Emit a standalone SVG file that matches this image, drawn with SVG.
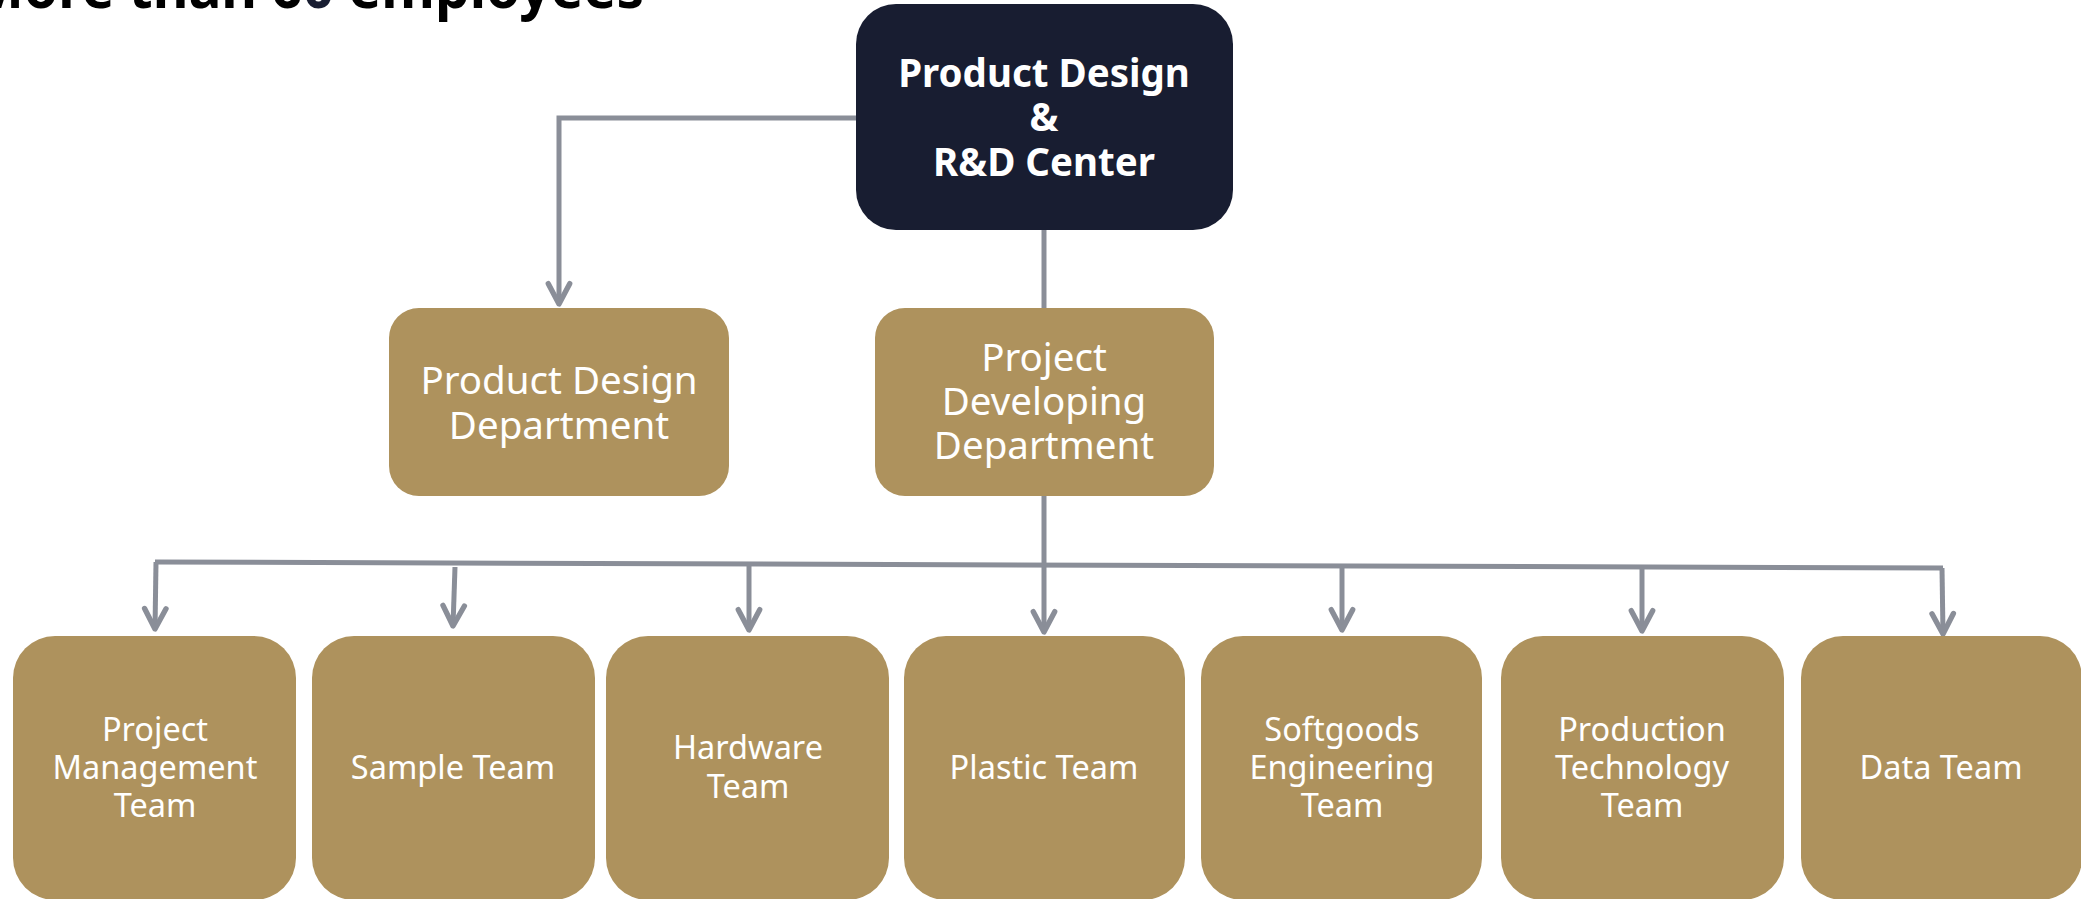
<svg xmlns="http://www.w3.org/2000/svg" width="2081" height="899" viewBox="0 0 2081 899">
  <defs>
    <style>
      .gold { fill: #ae925d; }
      .navy { fill: #181d31; }
      .lbl { font-family: "Noto Sans", "Open Sans", sans-serif; fill: #ffffff; text-anchor: middle; }
      .mid { font-size: 38.5px; }
      .small { font-size: 32.5px; }
      .top { font-family: "Noto Sans", "Open Sans", sans-serif; font-weight: bold; font-size: 38.5px; fill: #ffffff; text-anchor: middle; }
      .conn { fill: none; stroke: #8a8e98; stroke-width: 5; stroke-linejoin: miter; }
      .title { font-family: "Noto Sans", "Liberation Sans", sans-serif; font-weight: bold; font-size: 58px; fill: #000000; }
    </style>
    <marker id="arr" markerUnits="userSpaceOnUse" markerWidth="30" markerHeight="30" viewBox="-24 -14 28 28" refX="0" refY="0" orient="auto">
      <path d="M-19,-10 L0,0 L-19,10" fill="none" stroke="#8a8e98" stroke-width="5" stroke-linecap="round" stroke-linejoin="round"/>
    </marker>
  </defs>

  <rect width="2081" height="899" fill="#ffffff"/>

  <text class="title" x="-28" y="8" textLength="672" lengthAdjust="spacingAndGlyphs">More than 6<tspan fill="#181d31">0</tspan> employees</text>

  <g id="connectors">
    <polyline class="conn" points="856,118 559,118 559,304" marker-end="url(#arr)"/>
    <line class="conn" x1="1044" y1="230" x2="1044" y2="308"/>
    <line class="conn" x1="1044" y1="496" x2="1044" y2="632" marker-end="url(#arr)"/>
    <line class="conn" x1="155" y1="562" x2="1943" y2="568"/>
    <polyline class="conn" points="156,562 155,629" marker-end="url(#arr)"/>
    <line class="conn" x1="455" y1="567" x2="453" y2="626" marker-end="url(#arr)"/>
    <line class="conn" x1="749" y1="564" x2="749" y2="630" marker-end="url(#arr)"/>
    <line class="conn" x1="1342" y1="566" x2="1342" y2="630" marker-end="url(#arr)"/>
    <line class="conn" x1="1642" y1="567" x2="1642" y2="631" marker-end="url(#arr)"/>
    <line class="conn" x1="1942" y1="568" x2="1943" y2="634" marker-end="url(#arr)"/>
  </g>

  <g id="n-center">
    <rect class="navy" x="856" y="4" width="377" height="226" rx="40"/>
    <text class="top" x="1044" y="87">Product Design</text>
    <text class="top" x="1044" y="131">&amp;</text>
    <text class="top" x="1044" y="176">R&amp;D Center</text>
  </g>

  <g id="n-pdd">
    <rect class="gold" x="389" y="308" width="340" height="188" rx="30"/>
    <text class="lbl mid" x="559" y="394">Product Design</text>
    <text class="lbl mid" x="559" y="439">Department</text>
  </g>

  <g id="n-pdev">
    <rect class="gold" x="875" y="308" width="339" height="188" rx="30"/>
    <text class="lbl mid" x="1044" y="371">Project</text>
    <text class="lbl mid" x="1044" y="415">Developing</text>
    <text class="lbl mid" x="1044" y="459">Department</text>
  </g>

  <g id="t-pm">
    <rect class="gold" x="13" y="636" width="283" height="264" rx="42"/>
    <text class="lbl small" x="155" y="741">Project</text>
    <text class="lbl small" x="155" y="779">Management</text>
    <text class="lbl small" x="155" y="817">Team</text>
  </g>

  <g id="t-sample">
    <rect class="gold" x="312" y="636" width="283" height="264" rx="42"/>
    <text class="lbl small" x="453" y="779">Sample Team</text>
  </g>

  <g id="t-hardware">
    <rect class="gold" x="606" y="636" width="283" height="264" rx="42"/>
    <text class="lbl small" x="748" y="759">Hardware</text>
    <text class="lbl small" x="748" y="798">Team</text>
  </g>

  <g id="t-plastic">
    <rect class="gold" x="904" y="636" width="281" height="264" rx="42"/>
    <text class="lbl small" x="1044" y="779">Plastic Team</text>
  </g>

  <g id="t-softgoods">
    <rect class="gold" x="1201" y="636" width="281" height="264" rx="42"/>
    <text class="lbl small" x="1342" y="741">Softgoods</text>
    <text class="lbl small" x="1342" y="779">Engineering</text>
    <text class="lbl small" x="1342" y="817">Team</text>
  </g>

  <g id="t-production">
    <rect class="gold" x="1501" y="636" width="283" height="264" rx="42"/>
    <text class="lbl small" x="1642" y="741">Production</text>
    <text class="lbl small" x="1642" y="779">Technology</text>
    <text class="lbl small" x="1642" y="817">Team</text>
  </g>

  <g id="t-data">
    <rect class="gold" x="1801" y="636" width="281" height="264" rx="42"/>
    <text class="lbl small" x="1941" y="779">Data Team</text>
  </g>
</svg>
